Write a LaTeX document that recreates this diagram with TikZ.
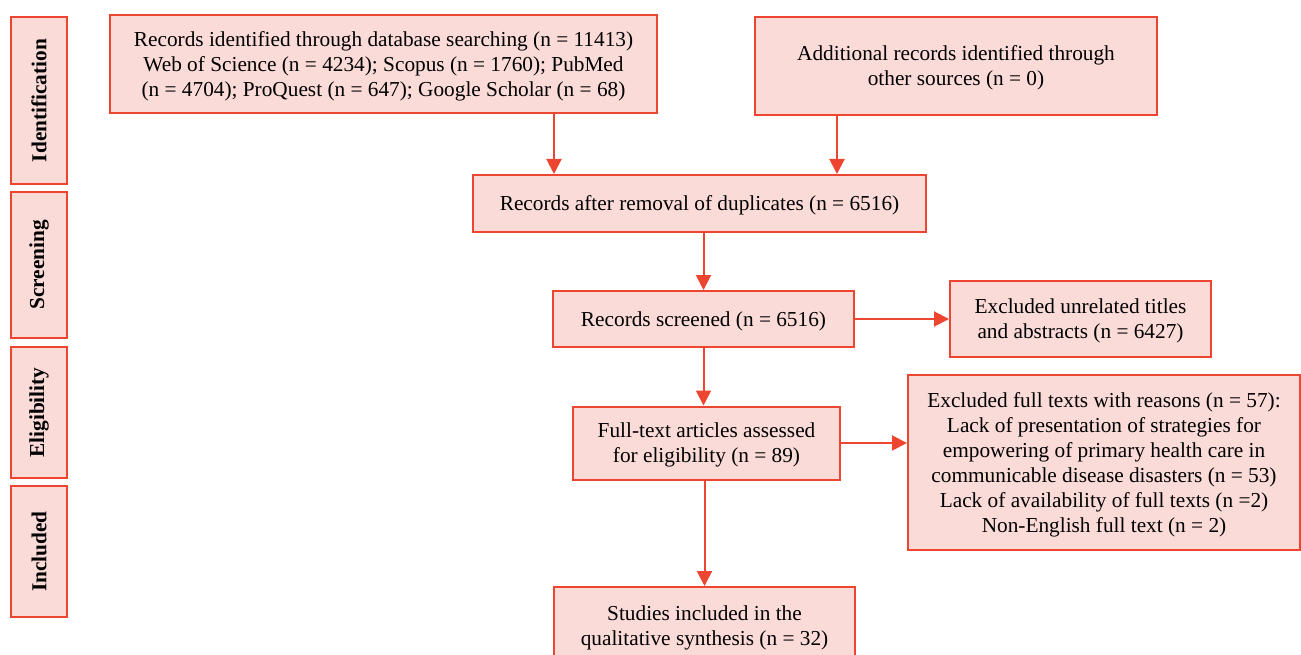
\documentclass[tikz,border=0pt]{standalone}
\usepackage{fontspec}
\setmainfont{Liberation Serif}
\usepackage{xcolor}
\usepackage{tikz}
\usetikzlibrary{positioning,arrows.meta}

\definecolor{boxfill}{HTML}{FADBD8}
\definecolor{boxline}{HTML}{EE4530}

\begin{document}
\begin{tikzpicture}[x=1pt,y=-1pt,
  every node/.style={font=\fontsize{21.3}{25}\selectfont},
  box/.style={draw=boxline,fill=boxfill,line width=2pt,align=center,
    inner sep=0pt},
  flow/.style={box,text depth=-1.5pt},
  phase/.style={box,rotate=90,font=\fontsize{21.3}{25}\selectfont\bfseries},
  arr/.style={draw=boxline,line width=2pt,-{Triangle[width=15pt,length=15pt]}}]
  \useasboundingbox (0,0) rectangle (1301,655);

  % Phase labels
  \node[phase,minimum width=167,minimum height=56] (ident) at (39,100.5) {Identification};
  \node[phase,minimum width=146,minimum height=56] (screen) at (39,265) {Screening};
  \node[phase,minimum width=131,minimum height=56] (elig) at (39,412.5) {Eligibility};
  \node[phase,minimum width=131,minimum height=56] (incl) at (39,551.5) {Included};

  % Flow boxes
  \node[flow,minimum width=547,minimum height=98] (db) at (383.5,64)
    {Records identified through database searching (n = 11413)\\
     Web of Science (n = 4234); Scopus (n = 1760); PubMed\\
     (n = 4704); ProQuest (n = 647); Google Scholar (n = 68)};
  \node[flow,minimum width=402,minimum height=98] (other) at (956,66)
    {Additional records identified through\\other sources (n = 0)};
  \node[flow,minimum width=453,minimum height=57] (dup) at (699.5,203.5)
    {Records after removal of duplicates (n = 6516)};
  \node[flow,minimum width=301,minimum height=56] (scr) at (703.5,319)
    {Records screened (n = 6516)};
  \node[flow,minimum width=261,minimum height=76] (excl1) at (1080.5,319)
    {Excluded unrelated titles\\and abstracts (n = 6427)};
  \node[flow,minimum width=267,minimum height=73] (full) at (706.5,443)
    {Full-text articles assessed\\for eligibility (n = 89)};
  \node[flow,minimum width=392,minimum height=175] (excl2) at (1104,462.5)
    {Excluded full texts with reasons (n = 57):\\
     Lack of presentation of strategies for\\
     empowering of primary health care in\\
     communicable disease disasters (n = 53)\\
     Lack of availability of full texts (n =2)\\
     Non-English full text (n = 2)};
  \node[flow,minimum width=301,minimum height=78] (final) at (704.5,626)
    {Studies included in the\\qualitative synthesis (n = 32)};

  % Connectors
  \draw[arr] ([xshift=170.5]db.south) -- ([xshift=170.5]db.south |- dup.north);
  \draw[arr] ([xshift=-119]other.south) -- ([xshift=-119]other.south |- dup.north);
  \draw[arr] (dup.south -| scr.north) -- (scr.north);
  \draw[arr] (scr.east) -- (excl1.west);
  \draw[arr] (scr.south) -- (scr.south |- full.north);
  \draw[arr] (full.east) -- (full.east -| excl2.west);
  \draw[arr] (full.south -| final.north) -- (final.north);
\end{tikzpicture}
\end{document}
